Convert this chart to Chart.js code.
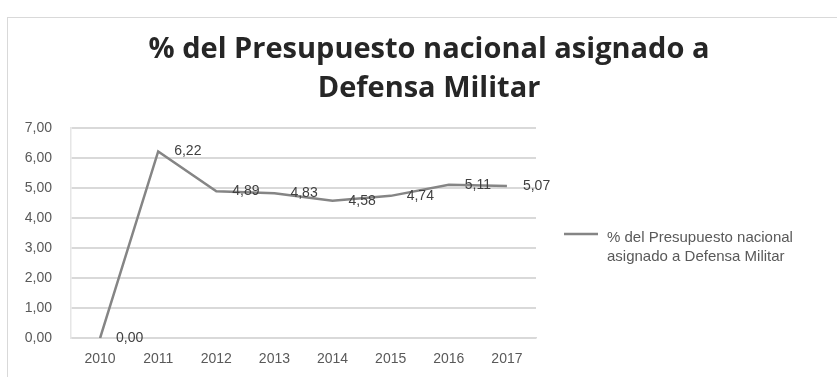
<!DOCTYPE html>
<html>
<head>
<meta charset="utf-8">
<script src="https://cdn.jsdelivr.net/npm/chart.js@4.4.1/dist/chart.umd.min.js"></script>
<style>
  html, body { margin: 0; padding: 0; background: #fff; }
  #frame {
    position: absolute; left: 7px; top: 17px;
    width: 830px; height: 360px;
    border-top: 1px solid #d9d9d9; border-left: 1px solid #d9d9d9;
    box-sizing: border-box;
  }
  #chart { display: block; }
</style>
</head>
<body>
<div id="frame"><canvas id="chart" width="829" height="359"></canvas></div>
<script>
// Porcentaje del presupuesto nacional destinado a defensa, por año
const years = ['2010', '2011', '2012', '2013', '2014', '2015', '2016', '2017'];
const pctDefensa = [0.00, 6.22, 4.89, 4.83, 4.58, 4.74, 5.11, 5.07];
const seriesName = ['% del Presupuesto nacional', 'asignado a Defensa Militar'];
const titleLines = ['% del Presupuesto nacional asignado a', 'Defensa Militar'];

const FONT = "'Liberation Sans', Arial, sans-serif";
const TITLE_FONT = "'Open Sans', 'Liberation Sans', sans-serif";
const LINE_COLOR = '#858585';
const TEXT_COLOR = '#595959';

function fmt(v) {
  return v.toFixed(2).replace('.', ',');
}

// título centrado sobre todo el lienzo (no sólo sobre el área del gráfico)
const centeredTitle = {
  id: 'centeredTitle',
  afterDraw(chart) {
    const ctx = chart.ctx;
    ctx.save();
    ctx.font = 'bold 29px ' + TITLE_FONT;
    ctx.fillStyle = '#262626';
    ctx.textAlign = 'center';
    ctx.textBaseline = 'middle';
    titleLines.forEach((line, i) => {
      ctx.fillText(line, 421, 32 + i * 39);
    });
    ctx.restore();
  },
};

// etiquetas de valor a la derecha de cada punto
const valueLabels = {
  id: 'valueLabels',
  afterDatasetsDraw(chart) {
    const ctx = chart.ctx;
    const meta = chart.getDatasetMeta(0);
    const data = chart.data.datasets[0].data;
    ctx.save();
    ctx.font = '14px ' + FONT;
    ctx.fillStyle = '#404040';
    ctx.textAlign = 'left';
    ctx.textBaseline = 'middle';
    meta.data.forEach((pt, i) => {
      ctx.fillText(fmt(data[i]), pt.x + 16, pt.y);
    });
    ctx.restore();
  },
};

// leyenda a la derecha, en dos líneas
const sideLegend = {
  id: 'sideLegend',
  afterDraw(chart) {
    const ctx = chart.ctx;
    const area = chart.chartArea;
    const ds = chart.data.datasets[0];
    const x0 = area.right + 28;
    const y0 = 216;
    ctx.save();
    ctx.strokeStyle = ds.borderColor;
    ctx.lineWidth = ds.borderWidth;
    ctx.beginPath();
    ctx.moveTo(x0, y0);
    ctx.lineTo(x0 + 34, y0);
    ctx.stroke();
    ctx.font = '15px ' + FONT;
    ctx.fillStyle = TEXT_COLOR;
    ctx.textBaseline = 'middle';
    seriesName.forEach((line, i) => {
      ctx.fillText(line, x0 + 43, y0 + 4 + i * 19);
    });
    ctx.restore();
  },
};

new Chart(document.getElementById('chart'), {
  type: 'line',
  data: {
    labels: years,
    datasets: [{
      label: seriesName.join(' '),
      data: pctDefensa,
      borderColor: LINE_COLOR,
      borderWidth: 2.5,
      pointRadius: 0,
      tension: 0,
    }],
  },
  options: {
    responsive: false,
    animation: false,
    layout: { padding: { left: 12, right: 301, top: 110, bottom: 4 } },
    plugins: {
      legend: { display: false },
      tooltip: { enabled: false },
      title: { display: false },
    },
    scales: {
      x: {
        offset: true,
        grid: { display: false },
        border: { color: '#d9d9d9', width: 1.5 },
        ticks: { color: TEXT_COLOR, font: { family: FONT, size: 14 }, padding: 5 },
        afterFit: (scale) => { scale.paddingLeft = 0; scale.paddingRight = 0; },
      },
      y: {
        min: 0,
        max: 7,
        ticks: {
          stepSize: 1,
          color: TEXT_COLOR,
          font: { family: FONT, size: 14 },
          padding: 19,
          callback: (v) => fmt(v),
        },
        afterFit: (scale) => { scale.width = 51; },
        grid: { color: '#d9d9d9', lineWidth: 2, drawTicks: false },
        border: { color: '#e6e6e6', width: 1.5 },
      },
    },
  },
  plugins: [centeredTitle, valueLabels, sideLegend],
});
</script>
</body>
</html>
